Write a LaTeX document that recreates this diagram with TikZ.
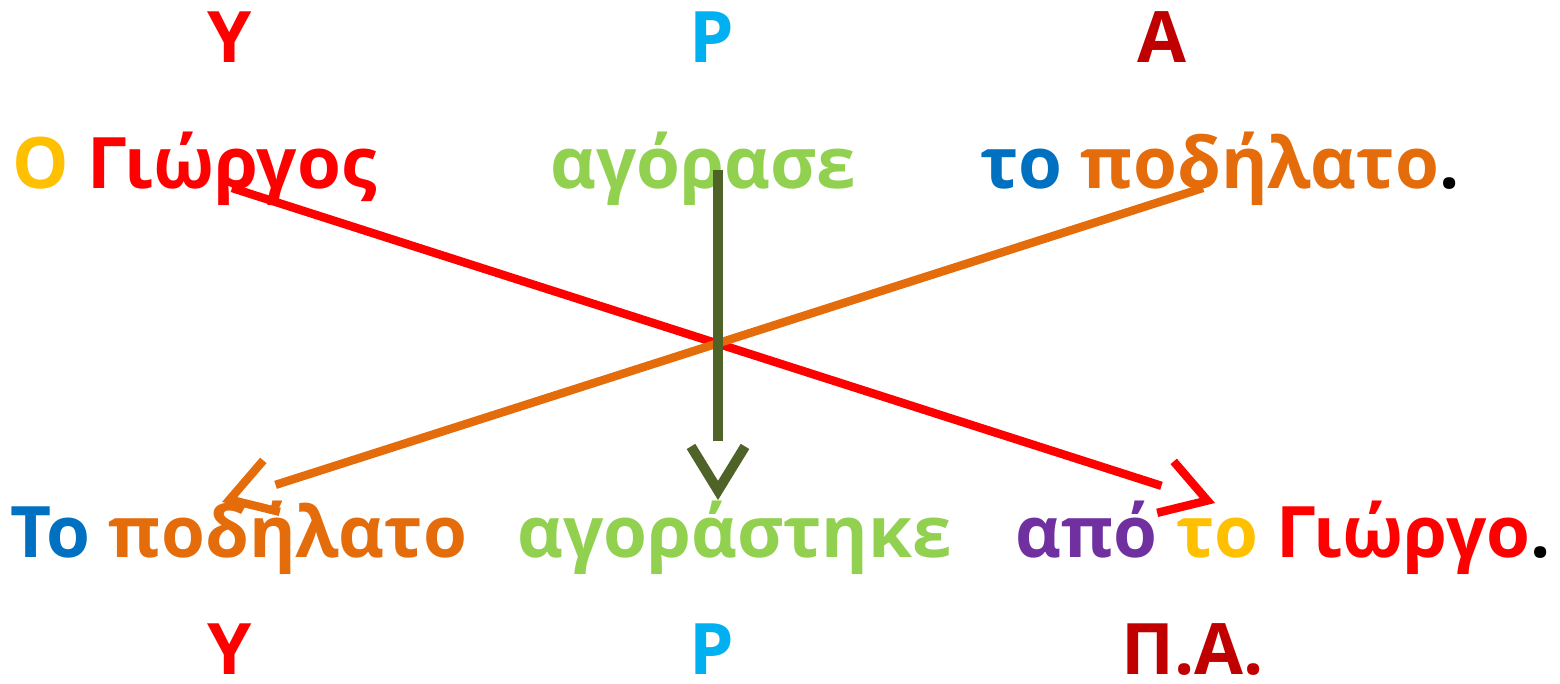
\documentclass[tikz,border=0pt]{standalone}
\usepackage{fontspec}
\setmainfont{Open Sans}
\usetikzlibrary{arrows.meta}
\definecolor{subjred}{RGB}{255,0,0}
\definecolor{artyellow}{RGB}{255,192,0}
\definecolor{verbgreen}{RGB}{146,208,80}
\definecolor{artblue}{RGB}{0,112,192}
\definecolor{objorange}{RGB}{228,108,10}
\definecolor{labdark}{RGB}{192,0,0}
\definecolor{labcyan}{RGB}{0,176,240}
\definecolor{prepurple}{RGB}{112,48,160}
\definecolor{arrowolive}{RGB}{79,98,40}

\newcommand{\wordfont}{\fontsize{50.5}{54}\selectfont\bfseries}

\begin{document}
\begin{tikzpicture}[
    x=0.025cm, y=-0.025cm,
    word/.style={font=\wordfont, inner sep=0pt, anchor=base west},
    lab/.style={font=\wordfont, inner sep=0pt, text depth=0pt, anchor=base},
    swap/.style={line width=0.21cm, -{.Straight Barb[length=1.1cm, width=1.35cm]}}
]
\useasboundingbox (0,0) rectangle (1560,684);

% Top labels
\node[lab, text=subjred] (topY) at (230,62) {Υ};
\node[lab, text=labcyan] (topR) at (712,62) {Ρ};
\node[lab, text=labdark] (topA) at (1162,62) {Α};

% Active sentence
\node[word] (subj) at (12,188) {\textcolor{artyellow}{Ο} \textcolor{subjred}{Γιώργος}};
\node[word, text=verbgreen] (verb) at (550,188) {αγόρασε};
\node[word] (obj) at (980,188) {\textcolor{artblue}{το} \textcolor{objorange}{ποδήλατο}.};

% Passive sentence
\node[word] (psubj) at (10,557) {\textcolor{artblue}{Το} \textcolor{objorange}{ποδήλατο}};
\node[word, text=verbgreen] (pverb) at (517,557) {αγοράστηκε};
\node[word] (pagent) at (1015,557) {\textcolor{prepurple}{από} \textcolor{artyellow}{το} \textcolor{subjred}{Γιώργο}.};

% Bottom labels
\node[lab, text=subjred] (botY) at (230,674) {Υ};
\node[lab, text=labcyan] (botR) at (712,674) {Ρ};
\node[lab, text=labdark] (botPA) at (1193,674) {Π.Α.};

% Connector ends
\coordinate (subjS) at (232,188);
\coordinate (agentE) at (1215,503);
\coordinate (objS) at (1203,188);
\coordinate (psubjE) at (222,502);
\coordinate (verbS) at (718,170);
\coordinate (pverbE) at (718,500);

% Arrows
\draw[swap, subjred] (subjS) -- (agentE);
\draw[swap, objorange] (objS) -- (psubjE);
\draw[swap, arrowolive, line width=0.25cm] (verbS) -- (pverbE);

\end{tikzpicture}
\end{document}
